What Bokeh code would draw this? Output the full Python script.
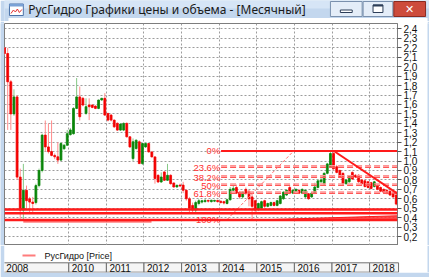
from bokeh.plotting import figure
from bokeh.layouts import column, row
from bokeh.models import (Range1d, SingleIntervalTicker, FixedTicker, CustomJSTickFormatter,
                          Label, ColumnDataSource, Grid, Span)
from bokeh.embed import file_html
from bokeh.resources import INLINE
from bokeh.core.properties import value

# ---------------- data ----------------
start_year, start_month = 2008, 4   # first monthly candle: April 2008
opens = [2.20, 2.14, 1.84, 1.50, 1.68, 0.83, 0.48, 0.69, 0.60, 0.565,
         0.56, 0.74, 0.90, 1.275, 1.15, 1.10, 1.06, 1.045, 1.01, 1.13,
         1.168, 1.28, 1.29, 1.558, 1.68, 1.665, 1.505, 1.594, 1.594, 1.583,
         1.558, 1.647, 1.665, 1.505, 1.487, 1.434, 1.40, 1.328, 1.328, 1.399,
         1.257, 1.026, 1.133, 1.204, 0.973, 1.15, 1.186, 1.097, 1.044, 0.849,
         0.778, 0.885, 0.796, 0.849, 0.768, 0.725, 0.745, 0.745, 0.69, 0.60,
         0.53, 0.48, 0.55, 0.565, 0.57, 0.583, 0.57, 0.575, 0.583, 0.575,
         0.57, 0.55, 0.59, 0.69, 0.72, 0.67, 0.62, 0.70, 0.68, 0.62,
         0.58, 0.49, 0.50, 0.58, 0.52, 0.53, 0.56, 0.53, 0.55, 0.60,
         0.64, 0.72, 0.66, 0.68, 0.69, 0.66, 0.62, 0.654, 0.62, 0.66,
         0.72, 0.78, 0.76, 0.87, 0.94, 1.08, 0.94, 0.90, 0.87, 0.76,
         0.78, 0.88, 0.85, 0.85, 0.80, 0.79, 0.78, 0.77, 0.73, 0.74,
         0.72, 0.70, 0.69, 0.68, 0.66, 0.64]
highs = [2.21, 2.20, 1.86, 1.76, 1.70, 0.92, 0.97, 0.74, 0.62, 0.62,
         0.76, 0.92, 1.29, 1.43, 1.40, 1.43, 1.08, 1.20, 1.20, 1.18,
         1.33, 1.35, 1.57, 1.88, 1.79, 1.68, 1.665, 1.665, 1.60, 1.59,
         1.65, 1.67, 1.72, 1.51, 1.50, 1.44, 1.41, 1.40, 1.41, 1.41,
         1.26, 1.24, 1.23, 1.22, 1.19, 1.20, 1.19, 1.10, 1.05, 0.86,
         0.88, 0.89, 0.97, 0.86, 0.77, 0.75, 0.76, 0.78, 0.70, 0.62,
         0.56, 0.58, 0.60, 0.59, 0.60, 0.59, 0.59, 0.59, 0.59, 0.58,
         0.58, 0.60, 0.725, 0.74, 0.75, 0.68, 0.68, 0.72, 0.69, 0.66,
         0.59, 0.56, 0.58, 0.59, 0.56, 0.57, 0.57, 0.59, 0.64, 0.68,
         0.70, 0.74, 0.70, 0.71, 0.70, 0.71, 0.70, 0.66, 0.67, 0.77,
         0.81, 0.82, 0.88, 0.98, 1.10, 1.115, 0.96, 0.91, 0.88, 0.81,
         0.85, 0.89, 0.86, 0.86, 0.81, 0.80, 0.79, 0.78, 0.79, 0.75,
         0.73, 0.71, 0.70, 0.69, 0.67, 0.65]
lows = [2.12, 1.33, 1.33, 1.48, 0.80, 0.39, 0.37, 0.48, 0.46, 0.46,
        0.54, 0.72, 0.88, 1.10, 1.08, 1.05, 1.02, 0.97, 1.00, 1.12,
        1.16, 1.27, 1.28, 1.55, 1.43, 1.58, 1.49, 1.434, 1.56, 1.55,
        1.55, 1.64, 1.48, 1.42, 1.42, 1.35, 1.32, 1.32, 1.32, 1.25,
        1.14, 1.00, 1.12, 0.97, 0.96, 1.14, 1.09, 1.04, 0.76, 0.77,
        0.77, 0.79, 0.79, 0.75, 0.72, 0.72, 0.73, 0.66, 0.58, 0.44,
        0.46, 0.46, 0.53, 0.55, 0.56, 0.56, 0.56, 0.565, 0.56, 0.55,
        0.54, 0.54, 0.58, 0.68, 0.65, 0.60, 0.60, 0.64, 0.52, 0.38,
        0.46, 0.47, 0.49, 0.50, 0.51, 0.52, 0.52, 0.52, 0.54, 0.59,
        0.63, 0.65, 0.65, 0.67, 0.65, 0.65, 0.61, 0.59, 0.61, 0.65,
        0.71, 0.77, 0.75, 0.86, 0.93, 0.90, 0.87, 0.82, 0.75, 0.75,
        0.77, 0.80, 0.82, 0.77, 0.75, 0.72, 0.71, 0.70, 0.72, 0.69,
        0.67, 0.66, 0.65, 0.63, 0.61, 0.53]
closes = [2.14, 1.84, 1.50, 1.68, 0.83, 0.48, 0.69, 0.58, 0.565, 0.55,
          0.74, 0.90, 1.275, 1.15, 1.10, 1.06, 1.045, 1.01, 1.186, 1.168,
          1.29, 1.33, 1.558, 1.68, 1.47, 1.594, 1.576, 1.576, 1.569, 1.558,
          1.647, 1.665, 1.487, 1.434, 1.434, 1.363, 1.328, 1.392, 1.399, 1.257,
          1.150, 1.204, 1.221, 0.973, 1.186, 1.186, 1.097, 1.044, 0.814, 0.778,
          0.831, 0.796, 0.849, 0.760, 0.725, 0.743, 0.735, 0.69, 0.60, 0.50,
          0.48, 0.56, 0.58, 0.58, 0.583, 0.575, 0.585, 0.583, 0.57, 0.56,
          0.555, 0.59, 0.70, 0.71, 0.66, 0.62, 0.67, 0.66, 0.60, 0.52,
          0.48, 0.55, 0.57, 0.52, 0.55, 0.56, 0.53, 0.58, 0.63, 0.67,
          0.69, 0.66, 0.69, 0.70, 0.66, 0.70, 0.69, 0.60, 0.66, 0.725,
          0.79, 0.80, 0.87, 0.97, 1.08, 0.92, 0.88, 0.83, 0.76, 0.80,
          0.84, 0.81, 0.83, 0.78, 0.76, 0.73, 0.72, 0.71, 0.78, 0.70,
          0.68, 0.67, 0.655, 0.64, 0.62, 0.544]
last_price = 0.544

year_labels = ["2008", "2010", "2011", "2012", "2013", "2014", "2015", "2016", "2017", "2018"]
year_box_edges = [2008.255, 2010, 2011, 2012, 2013, 2014, 2015, 2016, 2017, 2018, 2018.77]
grid_years = [2010, 2011, 2012, 2013, 2014, 2015, 2016, 2017, 2018]

fib_pct = [0, 23.6, 38.2, 50, 61.8, 100]
fib_labels = ["0%", "23.6%", "38.2%", "50%", "61.8%", "100%"]
fib_high = 1.107          # 0 %   (Jan 2017 high)
fib_low = 0.380           # 100 % (Dec 2014 low)
support_levels = [0.487, 0.447]
trend_from = (2017.05, 1.107)
trend_to_price = 0.654
fib_diag = [(2014.21, 0.380), (2015.98, 1.107)]

# ---------------- styling constants ----------------
BLUE = "#c3d7ee"
RED = "#ff1a1a"
RED_BODY = "#f20000"
RED_WICK = "#ff8c8c"
GREEN_BODY = "#0a850a"
GREEN_WICK = "#86c986"
GRID = "#9c9c9c"
FONT = "Liberation Sans"

X0, X1 = 2008.29, 2018.742
Y0, Y1 = 0.105, 2.458

xs = [start_year + (start_month - 1 + i + 0.5) / 12.0 for i in range(len(closes))]
up = [c >= o for o, c in zip(opens, closes)]
src = ColumnDataSource(dict(
    x=xs, open=opens, high=highs, low=lows, close=closes,
    top=[max(o, c) for o, c in zip(opens, closes)],
    bottom=[min(o, c) for o, c in zip(opens, closes)],
    body=[GREEN_BODY if u else RED_BODY for u in up],
    wick=[GREEN_WICK if u else RED_WICK for u in up],
))


def bare(fig):
    fig.toolbar_location = None
    fig.outline_line_color = None
    fig.grid.visible = False
    return fig


# ---------------- title bar ----------------
ft = figure(width=429, height=21, x_range=Range1d(0, 429), y_range=Range1d(21, 0),
            x_axis_location=None, y_axis_location=None, toolbar_location=None,
            output_backend="svg", min_border=0)
bare(ft)
ft.background_fill_color = BLUE
ft.border_fill_color = BLUE
ft.quad(left=[0], right=[429], top=[0], bottom=[8], fill_color="#d6e5f6", line_color=None)
ft.quad(left=[4], right=[427], top=[17.5], bottom=[21], fill_color="white", line_color=None)
# icon
ft.quad(left=[5], right=[19], top=[3.5], bottom=[15], fill_color="white", line_color="#4b71a8")
ft.quad(left=[5], right=[19], top=[3.5], bottom=[6], fill_color="#7aa2d6", line_color=None)
ft.line(x=[6.5, 9, 11, 13, 15, 17.5], y=[13, 9.5, 11.5, 8.5, 12, 9], line_color="#e23030", line_width=1)
ft.text(x=[24], y=[9], text=["РусГидро Графики цены и объема - [Месячный]"],
        text_font=value("Noto Sans"), text_font_size="12px", text_color="#1b1b1b",
        text_baseline="middle", text_align="left")
# buttons
ft.quad(left=[329, 362], right=[361, 392], top=[1, 1], bottom=[16, 16],
        fill_color="#e4edf8", line_color="#7a90ad", line_width=1)
ft.quad(left=[339], right=[351], top=[9.5], bottom=[12], fill_color="white", line_color="#2d3e58")
ft.quad(left=[372], right=[382], top=[4.5], bottom=[12], fill_color="white", line_color="#2d3e58")
ft.line(x=[372, 382], y=[5, 5], line_color="#2d3e58", line_width=2)
ft.quad(left=[393], right=[425], top=[1], bottom=[16], fill_color="#cd4b3c", line_color="#8a2a20")
ft.text(x=[409], y=[9], text=["✕"], text_font=value("DejaVu Sans"), text_font_size="11px",
        text_color="white", text_font_style="bold", text_align="center", text_baseline="middle")

# ---------------- main chart ----------------
p = figure(width=423, height=224, x_range=Range1d(X0, X1), y_range=Range1d(Y0, Y1),
           x_axis_location=None, y_axis_location="right", toolbar_location=None,
           output_backend="svg", min_border_left=0, min_border_right=30,
           min_border_top=2, min_border_bottom=0)
p.grid.visible = False
p.background_fill_color = "white"
p.border_fill_color = "white"
p.outline_line_color = "#7d7d7d"

ax = p.yaxis[0]
ax.ticker = SingleIntervalTicker(interval=0.1, num_minor_ticks=0)
ax.formatter = CustomJSTickFormatter(code="return tick.toFixed(1).replace('.', ',');")
ax.major_tick_out = 4
ax.major_tick_in = 0
ax.minor_tick_out = 0
ax.minor_tick_in = 0
ax.axis_line_color = "#7d7d7d"
ax.major_tick_line_color = "#555555"
ax.major_label_text_font = FONT
ax.major_label_text_font_size = "10px"
ax.major_label_text_color = "#111111"
ax.major_label_standoff = 2

p.add_layout(Grid(dimension=1, ticker=SingleIntervalTicker(interval=0.1, num_minor_ticks=0),
                  grid_line_color=GRID, grid_line_dash="2 2", grid_line_width=1))
p.add_layout(Grid(dimension=0, ticker=FixedTicker(ticks=grid_years),
                  grid_line_color=GRID, grid_line_dash="2 2", grid_line_width=1))

# candles
p.segment(x0="x", y0="low", x1="x", y1="high", line_color="wick", line_width=1, source=src)
p.vbar(x="x", width=0.05, top="top", bottom="bottom", fill_color="body",
       line_color="body", line_width=0.8, source=src)

# support lines
for lv in support_levels:
    p.add_layout(Span(location=lv, dimension="width", line_color=RED, line_width=2.5))
p.add_layout(Span(location=fib_low - 0.005, dimension="width", line_color=RED, line_width=2.5))
p.line(x=[2008.79, 2012.2], y=[0.355, 0.355], line_color=RED, line_width=1)

# Fibonacci retracement
fib_start = 2014.05
fib_prices = [fib_high - pc / 100.0 * (fib_high - fib_low) for pc in fib_pct]
for pc, fp in zip(fib_pct, fib_prices):
    if pc in (0, 100):
        continue
    p.line(x=[fib_start, X1], y=[fp, fp], line_color="#ff5656", line_width=1.5, line_dash="6 3")
    p.line(x=[fib_start, X1], y=[fp + 0.016, fp + 0.016], line_color="#ff9494",
           line_width=1.2, line_dash="6 3")
p.line(x=[fib_start, X1], y=[fib_prices[0], fib_prices[0]], line_color=RED, line_width=2)
p.text(x=[fib_start - 0.02] * len(fib_labels), y=fib_prices, text=fib_labels,
       text_font=value(FONT), text_font_size="9.5px", text_color="#ff3030",
       text_align="right", text_baseline="middle")
p.line(x=[fib_diag[0][0], fib_diag[1][0]], y=[fib_diag[0][1], fib_diag[1][1]],
       line_color="#ff7070", line_width=1, line_dash="3 2")

# falling trend line
p.line(x=[trend_from[0], X1], y=[trend_from[1], trend_to_price], line_color=RED, line_width=2)

# wedge fill near the bottom
p.patch(x=[2015.36, X1, X1], y=[fib_low, fib_low, 0.42], fill_color="#ff3030",
        fill_alpha=0.85, line_color=RED, line_width=1)

# last price tag
p.add_layout(Label(x=X1, y=last_price, text="0,544", x_offset=1, text_align="left",
                   text_baseline="middle", text_font=FONT, text_font_size="10px",
                   text_color=RED, background_fill_color="white",
                   border_line_color=RED, border_line_width=1))

left_strip = figure(width=4, height=224, x_range=Range1d(0, 1), y_range=Range1d(0, 1),
                    x_axis_location=None, y_axis_location=None, toolbar_location=None,
                    output_backend="svg", min_border=0)
bare(left_strip)
left_strip.background_fill_color = BLUE
left_strip.border_fill_color = BLUE

right_strip = figure(width=2, height=224, x_range=Range1d(0, 1), y_range=Range1d(0, 1),
                     x_axis_location=None, y_axis_location=None, toolbar_location=None,
                     output_backend="svg", min_border=0)
bare(right_strip)
right_strip.background_fill_color = BLUE
right_strip.border_fill_color = BLUE

# ---------------- legend + year strip ----------------
XB1 = X0 + (X1 - X0) * 425.0 / 393.0
fb = figure(width=429, height=32, x_range=Range1d(X0, XB1), y_range=Range1d(0, 27),
            x_axis_location=None, y_axis_location=None, toolbar_location=None,
            output_backend="svg", min_border_left=4, min_border_right=0,
            min_border_top=0, min_border_bottom=5)
bare(fb)
fb.background_fill_color = "white"
fb.border_fill_color = BLUE
px = (X1 - X0) / 393.0
fb.line(x=[X0 + 18 * px, X0 + 31 * px], y=[17, 17], line_color="#ff7c7c", line_width=2)
fb.text(x=[X0 + 40 * px], y=[17], text=["РусГидро [Price]"], text_font=value(FONT),
        text_font_size="9px", text_color="#111111", text_baseline="middle")
fb.quad(left=year_box_edges[:-1], right=year_box_edges[1:], bottom=[0.3] * len(year_labels),
        top=[9.7] * len(year_labels), fill_color="#f5f5f5", line_color="#6f6f6f", line_width=1)
fb.text(x=year_box_edges[:-1], y=[5] * len(year_labels), text=year_labels, x_offset=3,
        text_font=value(FONT), text_font_size="10px", text_color="#111111",
        text_baseline="middle", text_align="left")
fb.quad(left=[XB1 - 2 * px], right=[XB1], bottom=[0], top=[27], fill_color=BLUE, line_color=None)

layout = column(ft, row(left_strip, p, right_strip), fb)
open("out.html", "w").write(file_html(layout, INLINE))
